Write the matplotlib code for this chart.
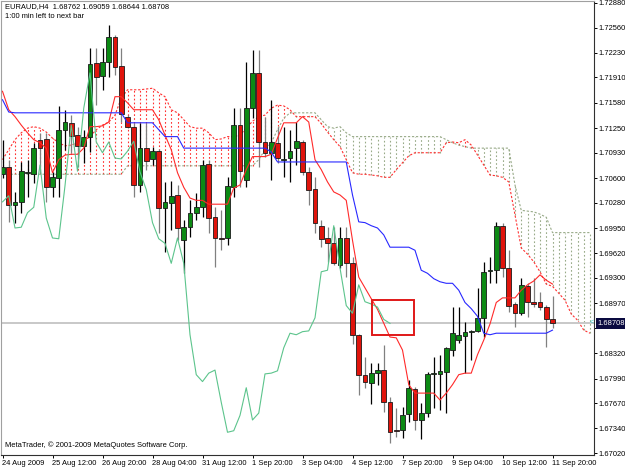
import matplotlib
matplotlib.use("Agg")
import matplotlib.pyplot as plt
import matplotlib.transforms as mtransforms
from matplotlib.patches import Rectangle

# ---------------- data (EURAUD H4) ----------------
opens = [1.7065, 1.7074, 1.7025, 1.7029, 1.7067, 1.7065, 1.7110, 1.7111, 1.7048, 1.7060,
         1.7123, 1.7132, 1.7116, 1.7102, 1.7114, 1.7210, 1.7193, 1.7211, 1.7244, 1.7206,
         1.7140, 1.7127, 1.7051, 1.7099, 1.7085, 1.7095, 1.7021, 1.7028, 1.7038, 1.6979,
         1.6996, 1.7015, 1.7022, 1.7078, 1.7009, 1.6982, 1.6982, 1.7048, 1.7129, 1.7058,
         1.7151, 1.7197, 1.7107, 1.7093, 1.7106, 1.7084, 1.7086, 1.7099, 1.7107, 1.7068,
         1.7046, 1.6998, 1.6982, 1.6975, 1.6947, 1.6982, 1.6949, 1.6856, 1.6804, 1.6793,
         1.6806, 1.6810, 1.6768, 1.6732, 1.6732, 1.6753, 1.6785, 1.6745, 1.6754, 1.6805,
         1.6805, 1.6808, 1.6836, 1.6849, 1.6854, 1.6860, 1.6861, 1.6878, 1.6939, 1.6940,
         1.6998, 1.6943, 1.6896, 1.6884, 1.6919, 1.6899, 1.6899, 1.6892, 1.68762]
highs = [1.7110, 1.7084, 1.7042, 1.7081, 1.7084, 1.7106, 1.7119, 1.7119, 1.7068, 1.7154,
         1.7149, 1.7142, 1.7127, 1.7123, 1.7229, 1.7229, 1.7229, 1.7259, 1.7246, 1.7229,
         1.7142, 1.7132, 1.7132, 1.7132, 1.7101, 1.7098, 1.7055, 1.7056, 1.7051, 1.7005,
         1.7031, 1.7041, 1.7084, 1.7084, 1.7022, 1.7018, 1.7061, 1.7151, 1.7151, 1.7211,
         1.7227, 1.7227, 1.7140, 1.7162, 1.7127, 1.7127, 1.7123, 1.7133, 1.7110, 1.7075,
         1.7061, 1.7005, 1.6996, 1.6996, 1.6996, 1.6996, 1.6957, 1.6857, 1.6827, 1.6819,
         1.6819, 1.6843, 1.6775, 1.6761, 1.6762, 1.6797, 1.6788, 1.6767, 1.6808, 1.6827,
         1.6830, 1.6840, 1.6892, 1.6892, 1.6873, 1.6862, 1.6917, 1.6951, 1.6957, 1.7003,
         1.7002, 1.6966, 1.6898, 1.6930, 1.6923, 1.6930, 1.6912, 1.6895, 1.69059]
lows = [1.7060, 1.7003, 1.7002, 1.7015, 1.7035, 1.7054, 1.7067, 1.7029, 1.7035, 1.7035,
        1.7097, 1.7093, 1.7075, 1.7080, 1.7094, 1.7155, 1.7175, 1.7192, 1.7194, 1.7133,
        1.7125, 1.7035, 1.7042, 1.7071, 1.7077, 1.6989, 1.6964, 1.6992, 1.6979, 1.6936,
        1.6983, 1.7005, 1.7009, 1.6989, 1.6944, 1.6966, 1.6973, 1.7035, 1.7048, 1.7048,
        1.7138, 1.7075, 1.7088, 1.7058, 1.7080, 1.7061, 1.7055, 1.7077, 1.7064, 1.7025,
        1.6989, 1.6970, 1.6951, 1.6947, 1.6943, 1.6931, 1.6844, 1.6778, 1.6787, 1.6766,
        1.6791, 1.6755, 1.6715, 1.6723, 1.6722, 1.6743, 1.6732, 1.6720, 1.6749, 1.6761,
        1.6758, 1.6754, 1.6828, 1.6845, 1.6806, 1.6823, 1.6860, 1.6853, 1.6923, 1.6923,
        1.6931, 1.6886, 1.6866, 1.6882, 1.6879, 1.6892, 1.6888, 1.6840, 1.68644]
closes = [1.7074, 1.7025, 1.7029, 1.7069, 1.7068, 1.7099, 1.7099, 1.7048, 1.7061, 1.7123,
          1.7133, 1.7115, 1.7102, 1.7114, 1.7209, 1.7192, 1.7211, 1.7244, 1.7205, 1.7143,
          1.7127, 1.7051, 1.7099, 1.7082, 1.7095, 1.7021, 1.7029, 1.7037, 1.6995, 1.6996,
          1.7015, 1.7022, 1.7077, 1.7008, 1.6982, 1.6981, 1.7050, 1.7129, 1.7069, 1.7151,
          1.7197, 1.7107, 1.7093, 1.7107, 1.7086, 1.7085, 1.7095, 1.7108, 1.7068, 1.7045,
          1.7002, 1.6981, 1.6975, 1.6949, 1.6982, 1.6949, 1.6856, 1.6804, 1.6795, 1.6806,
          1.6810, 1.6768, 1.6729, 1.6731, 1.6751, 1.6787, 1.6745, 1.6754, 1.6805, 1.6806,
          1.6809, 1.6839, 1.6858, 1.6856, 1.6860, 1.6861, 1.6878, 1.6938, 1.6940, 1.6998,
          1.6943, 1.6894, 1.6884, 1.6921, 1.6899, 1.6896, 1.6892, 1.6876, 1.68708]

tenkan = [1.7173, 1.7149, 1.7140, 1.7129, 1.7119, 1.7110, 1.7106, 1.7099, 1.7067, 1.7084,
          1.7090, 1.7091, 1.7091, 1.7099, 1.7127, 1.7127, 1.7128, 1.7133, 1.7166, 1.7166,
          1.7158, 1.7149, 1.7149, 1.7149, 1.7149, 1.7136, 1.7116, 1.7097, 1.7067, 1.7048,
          1.7034, 1.7031, 1.7031, 1.7026, 1.7026, 1.7026, 1.7026, 1.7047, 1.7051, 1.7071,
          1.7088, 1.7088, 1.7088, 1.7091, 1.7112, 1.7132, 1.7132, 1.7132, 1.7140, 1.7133,
          1.7084, 1.7071, 1.7055, 1.7042, 1.7038, 1.7031, 1.6979, 1.6931, 1.6917, 1.6903,
          1.6889, 1.6871, 1.6853, 1.6852, 1.6836, 1.6791, 1.6780, 1.6780, 1.6780, 1.6780,
          1.6771, 1.6780, 1.6791, 1.6804, 1.6806, 1.6806, 1.6830, 1.6849, 1.6870, 1.6898,
          1.6904, 1.6904, 1.6904, 1.6914, 1.6921, 1.6926, 1.6934, 1.6927, 1.6922]
kijun = [1.7162, 1.7146, 1.7145, 1.7145, 1.7145, 1.7145, 1.7145, 1.7145, 1.7145, 1.7145,
         1.7145, 1.7145, 1.7145, 1.7145, 1.7145, 1.7145, 1.7145, 1.7145, 1.7145, 1.7145,
         1.7132, 1.7132, 1.7132, 1.7132, 1.7132, 1.7123, 1.7114, 1.7114, 1.7114, 1.7099,
         1.7099, 1.7099, 1.7099, 1.7099, 1.7099, 1.7099, 1.7099, 1.7099, 1.7099, 1.7099,
         1.7099, 1.7099, 1.7099, 1.7094, 1.7081, 1.7081, 1.7081, 1.7081, 1.7081, 1.7081,
         1.7081, 1.7081, 1.7081, 1.7081, 1.7081, 1.7081, 1.7038, 1.7003, 1.7002, 1.6998,
         1.6995, 1.6986, 1.6970, 1.6970, 1.6970, 1.6970, 1.6966, 1.6940, 1.6936, 1.6929,
         1.6925, 1.6923, 1.6923, 1.6914, 1.6898, 1.6890, 1.6880, 1.6858, 1.6856, 1.6858,
         1.6858, 1.6858, 1.6858, 1.6858, 1.6858, 1.6858, 1.6858, 1.6858, 1.6862]
senkou_a = [1.7084, 1.7097, 1.7110, 1.7119, 1.7125, 1.7127, 1.7125, 1.7120, 1.7112, 1.7106,
            1.7102, 1.7103, 1.7106, 1.7108, 1.7114, 1.7123, 1.7129, 1.7133, 1.7142, 1.7164,
            1.7175, 1.7175, 1.7175, 1.7176, 1.7177, 1.7171, 1.7166, 1.7149, 1.7145, 1.7136,
            1.7127, 1.7125, 1.7125, 1.7119, 1.7110, 1.7111, 1.7114, 1.7114, 1.7116, 1.7125,
            1.7134, 1.7140, 1.7142, 1.7151, 1.7155, 1.7154, 1.7149, 1.7140, 1.7140, 1.7140,
            1.7140, 1.7131, 1.7120, 1.7110, 1.7101, 1.7084, 1.7067, 1.7065, 1.7065, 1.7064,
            1.7063, 1.7061, 1.7061, 1.7071, 1.7080, 1.7089, 1.7093, 1.7093, 1.7093, 1.7093,
            1.7093, 1.7106, 1.7107, 1.7106, 1.7110, 1.7103, 1.7090, 1.7077, 1.7064, 1.7063,
            1.7061, 1.7055, 1.7012, 1.6969, 1.6961, 1.6951, 1.6938, 1.6922, 1.6919, 1.6910,
            1.6901, 1.6883, 1.6875, 1.6862, 1.6858]
senkou_b = [1.7065, 1.7065, 1.7065, 1.7065, 1.7065, 1.7065, 1.7065, 1.7065, 1.7065, 1.7065,
            1.7065, 1.7065, 1.7065, 1.7065, 1.7065, 1.7065, 1.7065, 1.7065, 1.7065, 1.7065,
            1.7076, 1.7076, 1.7076, 1.7076, 1.7076, 1.7076, 1.7076, 1.7076, 1.7076, 1.7076,
            1.7076, 1.7076, 1.7076, 1.7076, 1.7076, 1.7076, 1.7076, 1.7076, 1.7076, 1.7076,
            1.7076, 1.7084, 1.7097, 1.7106, 1.7123, 1.7138, 1.7145, 1.7145, 1.7145, 1.7145,
            1.7145, 1.7136, 1.7127, 1.7125, 1.7127, 1.7119, 1.7114, 1.7114, 1.7114, 1.7114,
            1.7114, 1.7114, 1.7114, 1.7114, 1.7114, 1.7114, 1.7114, 1.7114, 1.7114, 1.7114,
            1.7114, 1.7110, 1.7106, 1.7103, 1.7101, 1.7099, 1.7099, 1.7099, 1.7099, 1.7099,
            1.7099, 1.7099, 1.7051, 1.7018, 1.7017, 1.7016, 1.7013, 1.7009, 1.6989, 1.6989,
            1.6989, 1.6989, 1.6989, 1.6989, 1.6989]
chikou_shift = 26

x_tick_bars = [0, 8, 16, 24, 32, 40, 48, 56, 64, 72, 80, 88]
x_tick_labels = ["24 Aug 2009", "25 Aug 12:00", "26 Aug 20:00", "28 Aug 04:00",
                 "31 Aug 12:00", "1 Sep 20:00", "3 Sep 04:00", "4 Sep 12:00",
                 "7 Sep 20:00", "9 Sep 04:00", "10 Sep 12:00", "11 Sep 20:00"]
y_ticks = [1.72880, 1.72560, 1.72230, 1.71910, 1.71580, 1.71250, 1.70930, 1.70600,
           1.70280, 1.69950, 1.69620, 1.69300, 1.68970, 1.68650, 1.68320, 1.67990,
           1.67670, 1.67340, 1.67020]
hidden_tick = 1.68650   # covered by the current-price label in the reference
last_price = 1.68708
box_bars = (59.1, 65.9)
box_prices = (1.6856, 1.6901)
header = "EURAUD,H4  1.68762 1.69059 1.68644 1.68708"
subheader = "1:00 min left to next bar"
copyright_txt = "MetaTrader, \u00a9 2001-2009 MetaQuotes Software Corp."

# ---------------- figure ----------------
W, H = 625, 469
fig = plt.figure(figsize=(W / 100, H / 100), dpi=100)
fig.patch.set_facecolor("white")
ax = fig.add_axes([1 / W, 14 / H, 593 / W, 454 / H])
ax.set_facecolor("white")
FONT = "Liberation Sans"
FS = 5.4

n = len(closes)
xs = list(range(n))
ax.set_xlim(-0.24, 94.64)
ax.set_ylim(1.66994, 1.72906)

RED_C = "#FF3030"
GREEN_C = "#98AA88"

# cloud hatching
for i in range(len(senkou_a)):
    a, b = senkou_a[i], senkou_b[i]
    col = RED_C if a >= b else GREEN_C
    ax.plot([i, i], [min(a, b), max(a, b)], color=col, lw=0.8,
            linestyle=(0, (1.5, 2.0)), zorder=1)
ax.plot(range(len(senkou_a)), senkou_a, color=RED_C, lw=0.8,
        linestyle=(0, (2.0, 1.6)), zorder=1.1)
ax.plot(range(len(senkou_b)), senkou_b, color=GREEN_C, lw=0.8,
        linestyle=(0, (2.0, 1.6)), zorder=1.1)

# current price line
ax.axhline(last_price, color="#C8C8C8", lw=1.4, zorder=1.2)

# candles
bw = 0.74
for i in range(n):
    o, h, l, c = opens[i], highs[i], lows[i], closes[i]
    bull = c >= o
    wick_col = "#000000" if bull else "#808080"
    ax.plot([i, i], [l, h], color=wick_col, lw=0.9, zorder=2, solid_capstyle="butt")
    body_col = "#0C8A14" if bull else "#E0140C"
    lo, hi = min(o, c), max(o, c)
    if hi - lo < 0.00006:
        ax.plot([i - bw / 2, i + bw / 2], [o, o], color="#000000", lw=0.9, zorder=2.2)
    else:
        ax.add_patch(Rectangle((i - bw / 2, lo), bw, hi - lo, facecolor=body_col,
                               edgecolor="#1A1A1A", lw=0.6, zorder=2.1))

# ichimoku lines
ax.plot(xs, tenkan, color="#FF2A2A", lw=0.8, zorder=3)
ax.plot(xs, kijun, color="#2828FF", lw=0.8, zorder=3)
chik_x = list(range(n - chikou_shift))
chik_y = closes[chikou_shift:]
ax.plot(chik_x, chik_y, color="#5CC48C", lw=0.8, zorder=3)

# drawn rectangle object
ax.add_patch(Rectangle((box_bars[0], box_prices[0]), box_bars[1] - box_bars[0],
                       box_prices[1] - box_prices[0], fill=False,
                       edgecolor="#E01818", lw=1.4, zorder=4))

# cyan arrow marker at right edge
ax.text(94.25, last_price + 0.0002, "<", color="#30C8C8", fontsize=5,
        ha="center", va="center", family=FONT, zorder=4)

# axes styling
for side in ("left", "top"):
    ax.spines[side].set_color("#A0A0A0")
for side in ("right", "bottom"):
    ax.spines[side].set_color("#303030")
for sp in ax.spines.values():
    sp.set_linewidth(0.8)

ax.yaxis.tick_right()
ax.set_yticks(y_ticks)
ax.set_yticklabels(["" if v == hidden_tick else "%.5f" % v for v in y_ticks],
                   fontsize=FS, family=FONT)
ax.tick_params(axis="y", direction="out", length=2.2, width=0.7, pad=1.2,
               colors="#000000")
ax.set_xticks(x_tick_bars)
ax.set_xticklabels(x_tick_labels, fontsize=FS, family=FONT, ha="left")
ax.tick_params(axis="x", direction="out", length=2.2, width=0.7, pad=1.5,
               colors="#000000")
for lab in ax.get_xticklabels():
    lab.set_transform(lab.get_transform() +
                      mtransforms.ScaledTranslation(-1 / 100, 0, fig.dpi_scale_trans))

# price label box
trans = mtransforms.blended_transform_factory(ax.transAxes, ax.transData)
ax.text(1.0 + 3.5 / 593, last_price, "%.5f" % last_price, transform=trans,
        ha="left", va="center", color="white", fontsize=FS, family=FONT,
        clip_on=False, zorder=10,
        bbox=dict(boxstyle="square,pad=0.25", fc="#0A0A40", ec="none"))

# texts
fig.text(5 / W, 1 - 3 / H, header, fontsize=FS, family=FONT, va="top", ha="left")
fig.text(5 / W, 1 - 12.5 / H, subheader, fontsize=FS, family=FONT, va="top", ha="left")
fig.text(5 / W, 1 - 441 / H, copyright_txt, fontsize=FS, family=FONT, va="top", ha="left")

fig.savefig("out.png", dpi=100, facecolor="white")
